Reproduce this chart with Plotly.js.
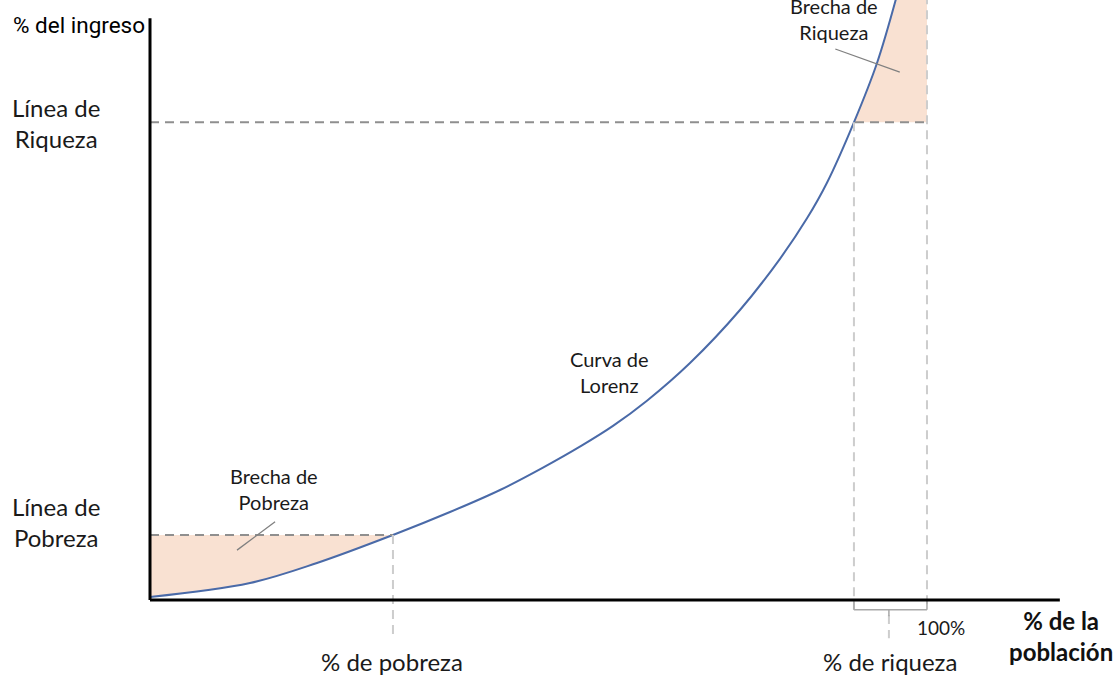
<!DOCTYPE html>
<html>
<head>
<meta charset="utf-8">
<script src="https://cdn.plot.ly/plotly-3.0.1.min.js"></script>
<style>html,body{margin:0;padding:0;background:#fff;}#chart{width:1114px;height:675px;}</style>
</head>
<body>
<div id="chart"></div>
<script>
// Lorenz curve (x: % de la población, y: % del ingreso), schematic values
const curveX = [0, 12.87, 21.49, 31.27, 38.61, 45.05, 50.58, 55.60, 59.59, 63.96, 69.50, 75.93, 81.08, 84.56, 87.13, 90.60, 93.56, 96.14];
const curveY = [0.52, 2.93, 6.38, 11.21, 15.17, 18.97, 22.83, 26.66, 30.02, 34.36, 40.86, 50.00, 58.83, 65.81, 71.95, 82.36, 92.55, 104.28];

const povertyX = 31.27;  // % de pobreza
const povertyY = 11.21;  // Línea de Pobreza
const wealthX = 90.60;   // % de riqueza
const wealthY = 82.36;   // Línea de Riqueza
const fullX = 100;       // 100%
const topY = 104.28;

const labels = {
  yTitle: "% del ingreso",
  xTitle: "<b>% de la<br>población</b>",
  wealthLine: "Línea de<br>Riqueza",
  povertyLine: "Línea de<br>Pobreza",
  povertyGap: "Brecha de<br>Pobreza",
  wealthGap: "Brecha de<br>Riqueza",
  curve: "Curva de<br>Lorenz",
  povertyPct: "% de pobreza",
  wealthPct: "% de riqueza",
  full: "100%"
};

const povIdx = curveX.indexOf(povertyX);
const wIdx = curveX.indexOf(wealthX);

const fillColor = "rgba(248,222,205,0.9)";
const spl = {width: 0, shape: "spline", smoothing: 1, simplify: false};
const traces = [
  // poverty gap: between poverty line and the curve
  {x: [0, povertyX], y: [povertyY, povertyY], mode: "lines", line: {width: 0}, hoverinfo: "skip"},
  {x: curveX.slice(0, povIdx + 1), y: curveY.slice(0, povIdx + 1), mode: "lines", fill: "tonexty", fillcolor: fillColor, line: spl, hoverinfo: "skip"},
  // wealth gap: between the curve and the 100% line, above the wealth line
  {x: [fullX, fullX], y: [wealthY, topY], mode: "lines", line: {width: 0}, hoverinfo: "skip"},
  {x: curveX.slice(wIdx), y: curveY.slice(wIdx), mode: "lines", fill: "tonexty", fillcolor: fillColor, line: spl, hoverinfo: "skip"},
  // Lorenz curve
  {x: curveX, y: curveY, mode: "lines", line: {color: "#4a6aa8", width: 2, shape: "spline", smoothing: 1, simplify: false}, hoverinfo: "skip"}
];

const darkDash = {color: "#8f8f8f", width: 2, dash: "9px,6px"};
const lightDash = {color: "#cdcdcd", width: 2, dash: "9px,6px"};
const bracket = {color: "#a8a8a8", width: 1.5};
const pointer = {color: "#808080", width: 1.3};
const ln = (x0, y0, x1, y1, line) => ({type: "line", xref: "x", yref: "y", x0, y0, x1, y1, line, layer: "above"});

const shapes = [
  ln(0, wealthY, fullX, wealthY, darkDash),
  ln(0, povertyY, povertyX, povertyY, darkDash),
  ln(povertyX, povertyY, povertyX, -6.6, lightDash),
  ln(wealthX, wealthY, wealthX, -1.7, lightDash),
  ln(fullX, topY, fullX, -1.7, lightDash),
  ln(95.1, -2.6, 95.1, -6.6, lightDash),
  ln(wealthX, 0, wealthX, -1.7, bracket),
  ln(wealthX, -1.7, fullX, -1.7, bracket),
  ln(fullX, -1.7, fullX, 0, bracket),
  ln(95.1, -1.7, 95.1, -2.8, bracket),
  ln(16.1, 13.5, 11.2, 8.6, pointer),
  ln(88.2, 95.0, 96.5, 91.0, pointer),
  ln(0, 0, 117.1, 0, {color: "#000", width: 3}),
  ln(0, 0, 0, 100.3, {color: "#000", width: 3})
];

const cal = "Lato, 'Open Sans', sans-serif";
const ann = (text, x, y, size, opts) => Object.assign({text, x, y, xref: "x", yref: "y", showarrow: false,
  font: {family: cal, size, color: "#1a1a1a"}, xanchor: "center", yanchor: "middle"}, opts || {});

const annotations = [
  ann(labels.yTitle, -0.4, 99.1, 22.5, {xanchor: "right", font: {family: "Roboto, Arial, sans-serif", size: 22.5, color: "#000"}}),
  ann(labels.wealthLine, -12.1, 82.3, 24),
  ann(labels.povertyLine, -12.1, 13.5, 24),
  ann(labels.povertyGap, 16.0, 19.1, 20),
  ann(labels.curve, 59.2, 39.3, 20),
  ann(labels.wealthGap, 88.0, 100.2, 20),
  ann(labels.povertyPct, 31.2, -10.6, 24),
  ann(labels.wealthPct, 95.3, -10.6, 24),
  ann(labels.full, 101.8, -4.7, 19),
  ann(labels.xTitle, 117.2, -6.2, 24, {font: {family: cal, size: 24, color: "#111"}})
];

const layout = {
  width: 1114, height: 675,
  margin: {l: 0, r: 0, t: 0, b: 0},
  paper_bgcolor: "#fff", plot_bgcolor: "#fff",
  showlegend: false,
  xaxis: {range: [-19.305, 124.07], visible: false, fixedrange: true},
  yaxis: {range: [-12.93, 103.45], visible: false, fixedrange: true},
  shapes, annotations
};

Plotly.newPlot("chart", traces, layout, {displayModeBar: false, staticPlot: true});
</script>
</body>
</html>
